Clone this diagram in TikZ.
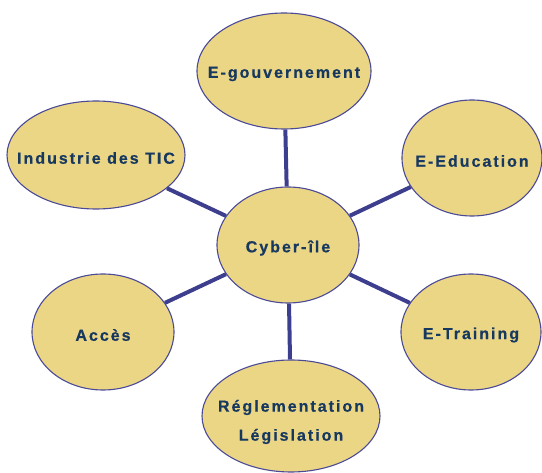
\documentclass[tikz,border=0pt]{standalone}
\usepackage{fontspec}
\setmainfont{Liberation Sans}
\newfontfamily\spaced[LetterSpace=12.5, UprightFont={* Bold}, FakeBold=0.6]{Liberation Sans}
\usetikzlibrary{shapes.geometric}
\definecolor{bubblefill}{HTML}{EBD686}
\definecolor{bubbleline}{HTML}{4A4A96}
\definecolor{spoke}{HTML}{3E3E8E}
\definecolor{labeltext}{HTML}{17385F}
\begin{document}
\begin{tikzpicture}[x=1pt,y=-1pt,
  bubble/.style={ellipse, fill=bubblefill, draw=bubbleline, line width=1.1pt, inner sep=0pt},
  bubbletext/.style={text=labeltext, font=\spaced\fontsize{16}{29}\selectfont, align=center, inner sep=0pt, yshift=-3pt},
  spokeline/.style={draw=spoke, line width=4pt}]
\useasboundingbox (0,0) rectangle (542,473);
% hub and surrounding themes
\node[bubble, minimum width=142pt, minimum height=116pt] (cyb) at (288,245) {};
\node[bubble, minimum width=174pt, minimum height=116pt] (gov) at (284,71) {};
\node[bubble, minimum width=140pt, minimum height=116pt] (edu) at (472,158) {};
\node[bubble, minimum width=140pt, minimum height=116pt] (trn) at (471,332) {};
\node[bubble, minimum width=178pt, minimum height=112pt] (reg) at (291,416) {};
\node[bubble, minimum width=142pt, minimum height=116pt] (acc) at (103,332) {};
\node[bubble, minimum width=178pt, minimum height=108pt] (ind) at (96,155) {};
% spokes from the hub
\draw[spokeline] (cyb) -- (gov);
\draw[spokeline] (cyb) -- (edu);
\draw[spokeline] (cyb) -- (trn);
\draw[spokeline] (cyb) -- (reg);
\draw[spokeline] (cyb) -- (acc);
\draw[spokeline] (cyb) -- (ind);
% labels
\node[bubbletext] (cybt) at (cyb) {Cyber-île};
\node[bubbletext] (govt) at (gov) {E-gouvernement};
\node[bubbletext] (edut) at (edu) {E-Education};
\node[bubbletext] (trnt) at (trn) {E-Training};
\node[bubbletext] (regt) at ([yshift=-3pt]reg.center) {Réglementation\\Législation};
\node[bubbletext] (acct) at (acc) {Accès};
\node[bubbletext] (indt) at (ind) {Industrie des TIC};
\end{tikzpicture}
\end{document}
